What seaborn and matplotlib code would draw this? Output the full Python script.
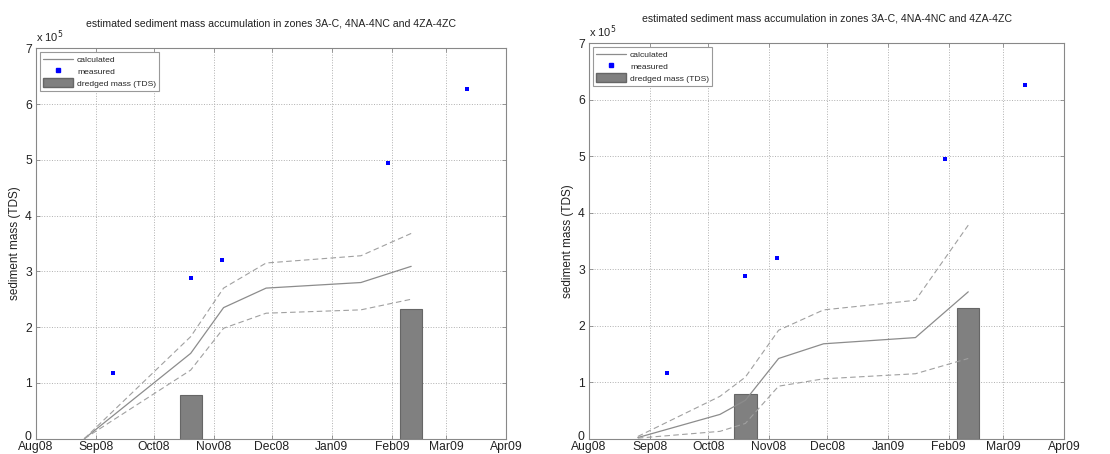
import pandas as pd
import seaborn as sns
import matplotlib.pyplot as plt
import matplotlib.dates as mdates
import matplotlib.transforms as mtransforms
from matplotlib.lines import Line2D
from matplotlib.patches import Patch
from matplotlib.ticker import FuncFormatter

# --- data (TDS) ---
title = "estimated sediment mass accumulation in zones 3A-C, 4NA-4NC and 4ZA-4ZC"

measured_dates = ["2008-09-10", "2008-10-20", "2008-11-05", "2009-01-30", "2009-03-12"]
measured_mass = [117000, 288000, 320000, 495000, 627000]

dredged_dates = ["2008-10-20", "2009-02-11"]
dredged_mass = [79000, 232000]

# left panel
left_dates = ["2008-08-26", "2008-10-20", "2008-11-06", "2008-11-28", "2009-01-16", "2009-02-11"]
left_calc = [0, 153000, 235000, 270000, 280000, 309000]
left_upper = [0, 183000, 270000, 315000, 328000, 368000]
left_lower = [0, 123000, 198000, 225000, 231000, 250000]

# right panel
right_dates = ["2008-08-26", "2008-10-07", "2008-10-20", "2008-11-06", "2008-11-29",
               "2009-01-15", "2009-02-11"]
right_calc = [2000, 43000, 68000, 142000, 168000, 179000, 260000]
right_upper = [4000, 75000, 109000, 192000, 228000, 245000, 378000]
right_lower = [1000, 13000, 27000, 93000, 106000, 115000, 142000]

month_ticks = pd.date_range("2008-08-01", "2009-04-01", freq="MS")

sns.set_style("whitegrid")
plt.rcParams["font.family"] = ["Liberation Sans", "DejaVu Sans"]

fig = plt.figure(figsize=(11.1, 4.54), dpi=100)
ax_left = fig.add_axes([0.0324, 0.0337, 0.4234, 0.860])
ax_right = fig.add_axes([0.5306, 0.0337, 0.428, 0.871])

measured = pd.DataFrame({"date": pd.to_datetime(measured_dates), "mass": measured_mass})
dredged = pd.DataFrame({"date": pd.to_datetime(dredged_dates), "mass": dredged_mass})


def draw_panel(ax, dates, calc, upper, lower):
    df = pd.DataFrame({"date": pd.to_datetime(dates), "calc": calc,
                       "upper": upper, "lower": lower})

    ax.bar(dredged["date"], dredged["mass"], width=11.5, color="#808080",
           edgecolor="#666666", linewidth=0.8, zorder=2)
    sns.lineplot(data=df, x="date", y="calc", ax=ax, color="#8c8c8c",
                 linewidth=0.9, zorder=3)
    sns.lineplot(data=df, x="date", y="upper", ax=ax, color="#a0a0a0",
                 linewidth=0.8, linestyle=(0, (5, 3)), zorder=3)
    sns.lineplot(data=df, x="date", y="lower", ax=ax, color="#a0a0a0",
                 linewidth=0.8, linestyle=(0, (5, 3)), zorder=3)
    sns.scatterplot(data=measured, x="date", y="mass", ax=ax, color="#0000ff",
                    marker="s", s=8, linewidth=0, zorder=4)

    ax.set_xlim(month_ticks[0], month_ticks[-1])
    ax.set_ylim(0, 700000)
    ax.set_xticks(month_ticks)
    ax.xaxis.set_major_formatter(mdates.DateFormatter("%b%y"))
    ax.set_yticks(range(0, 700001, 100000))
    ax.yaxis.set_major_formatter(FuncFormatter(lambda v, p: f"{v / 1e5:g}"))

    ax.grid(True, linestyle=":", color="#b0b0b0", linewidth=0.7)
    ax.set_axisbelow(True)
    for s in ax.spines.values():
        s.set_color("#888888")
        s.set_linewidth(0.8)
    ax.tick_params(direction="in", length=3, width=0.6, color="#888888",
                   labelsize=8.7, labelcolor="#222222", top=True, right=True,
                   bottom=True, left=True)
    ax.tick_params(axis="x", pad=1.5)
    ax.tick_params(axis="y", pad=3)

    # nudge the "0" label up a little so it clears the first month label
    zero_lbl = ax.get_yticklabels()[0]
    zero_lbl.set_transform(zero_lbl.get_transform() +
                           mtransforms.ScaledTranslation(0, 2.5 / 72, fig.dpi_scale_trans))

    ax.set_xlabel("")
    ax.set_ylabel("sediment mass (TDS)", fontsize=8.5, color="#222222", labelpad=3)
    ax.set_title(title, fontsize=7.6, color="#222222", pad=16)
    ax.text(0.0, 1.008, r"x 10$^5$", transform=ax.transAxes, ha="left",
            va="bottom", fontsize=8, color="#222222")

    handles = [
        Line2D([], [], color="#8c8c8c", linewidth=0.9),
        Line2D([], [], color="#0000ff", marker="s", markersize=3.5, linestyle="none"),
        Patch(facecolor="#808080", edgecolor="#666666"),
    ]
    leg = ax.legend(handles, ["calculated", "measured", "dredged mass (TDS)"],
                    loc="upper left", fontsize=6.1, frameon=True, fancybox=False,
                    framealpha=1, edgecolor="#999999", handlelength=3.6,
                    handleheight=1.3, borderpad=0.35, labelspacing=0.25,
                    handletextpad=0.45, borderaxespad=0.45)
    leg.get_frame().set_linewidth(0.8)


draw_panel(ax_left, left_dates, left_calc, left_upper, left_lower)
draw_panel(ax_right, right_dates, right_calc, right_upper, right_lower)

fig.savefig("out.png", dpi=100)
